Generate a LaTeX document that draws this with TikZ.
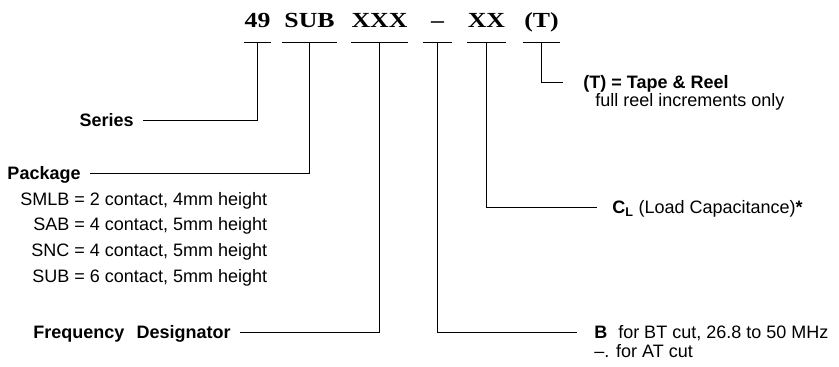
\documentclass[tikz,border=0pt]{standalone}
\usepackage{fontspec}
\setmainfont{Liberation Serif}
\setsansfont{Liberation Sans}
\newfontfamily\codefont[FakeStretch=1.2]{Liberation Serif}
\usepackage{tikz}
\usetikzlibrary{positioning, calc}

\begin{document}
\begin{tikzpicture}[x=1pt, y=-1pt, line width=0.9pt,
  code/.style={font=\codefont\bfseries\fontsize{21.5}{25}\selectfont, inner sep=0pt, text depth=14pt, anchor=south},
  lbl/.style={font=\sffamily\bfseries\fontsize{18}{21.6}\selectfont, inner ysep=0pt, inner xsep=9pt, text height=13pt, text depth=0pt},
  note/.style={font=\sffamily\fontsize{18}{21.6}\selectfont, inner sep=0pt, text height=13pt, text depth=0pt}]
  \useasboundingbox (0,0) rectangle (839,367);
  \node[code, minimum width=25pt] (c49)  at (257.5,42) {49};
  \node[code, minimum width=55pt] (csub) at (309.5,42) {SUB};
  \node[code, minimum width=55pt] (cxxx) at (379.5,42) {XXX};
  \node[code, minimum width=29pt] (cdash) at (437.5,42) {–\hspace{8pt}};
  \node[code, minimum width=33pt] (cxx)  at (486.5,42) {XX};
  \node[code, minimum width=37pt] (ct)   at (541.5,42) {(T)};
  \foreach \c in {c49,csub,cxxx,cdash,cxx,ct}
    \draw (\c.south west) -- (\c.south east);

  \node[lbl, anchor=east] (series)  at (143,120) {Series};
  \node[lbl, anchor=east] (package) at (90,173) {Package};
  \node[font=\sffamily\fontsize{18}{21.6}\selectfont, inner sep=0pt, anchor=base west] (pkglist) at (20,205)
    {\def\arraystretch{1.19}\begin{tabular}[t]{@{}r@{\ =\ }l@{}}
      SMLB & 2 contact, 4mm height\\
      SAB & 4 contact, 5mm height\\
      SNC & 4 contact, 5mm height\\
      SUB & 6 contact, 5mm height
    \end{tabular}};
  \node[lbl, anchor=east] (freq) at (240,332) {Frequency\hspace{0.4em} Designator};

  \node[lbl, anchor=west, inner xsep=20pt] (tape) at (563,82) {(T) = Tape \& Reel};
  \node[note, anchor=west] (reelnote) at (595,100) {full reel increments only};
  \node[note, anchor=west, inner xsep=15pt] (cload) at (597,207)
    {\textbf{C\textsubscript{L}} (Load Capacitance)\textbf{*}};
  \node[note, anchor=west, inner xsep=17pt] (btcut) at (577,332)
    {\textbf{B}\hspace{0.6em}for BT cut, 26.8 to 50 MHz};
  \node[note, anchor=west] (atcut) at (594,351) {–. for AT cut};

  \draw (c49.south)   |- (series.east);
  \draw (csub.south)  |- (package.east);
  \draw (cxxx.south)  |- (freq.east);
  \draw (cdash.south) |- (btcut.west);
  \draw (cxx.south)   |- (cload.west);
  \draw (ct.south)    |- (tape.west);
\end{tikzpicture}
\end{document}
